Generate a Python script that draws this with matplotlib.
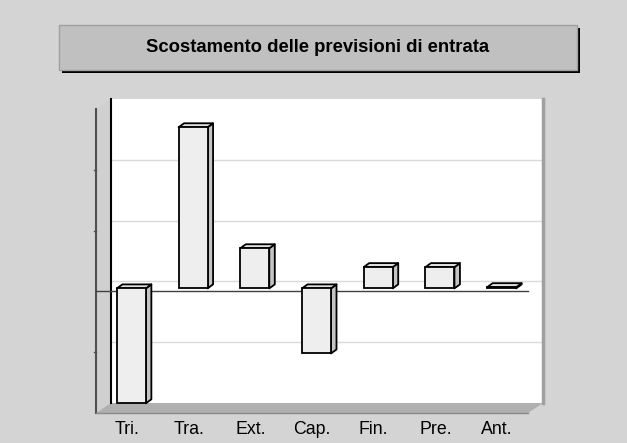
import matplotlib
matplotlib.use("Agg")
import matplotlib.pyplot as plt
from matplotlib.patches import Rectangle, Polygon

plt.rcParams['font.family'] = ['Liberation Sans', 'DejaVu Sans']

# data (values in grid units)
categories = ["Tri.", "Tra.", "Ext.", "Cap.", "Fin.", "Pre.", "Ant."]
values = [-1.89, 2.65, 0.66, -1.07, 0.35, 0.35, 0.02]
title = "Scostamento delle previsioni di entrata"

W, H = 627, 443
fig = plt.figure(figsize=(W / 100, H / 100), dpi=100, facecolor="#d4d4d4")

# title box with black shadow
fig.patches.append(Rectangle((62 / W, 1 - 73 / H), 518 / W, 45 / H, transform=fig.transFigure,
                             facecolor="black", edgecolor="none", zorder=0))
fig.patches.append(Rectangle((59 / W, 1 - 70 / H), 518 / W, 45 / H, transform=fig.transFigure,
                             facecolor="#c0c0c0", edgecolor="#a0a0a0", lw=1, zorder=1))
fig.text(318 / W, 1 - 48 / H, title, ha="center", va="center", fontsize=13.3,
         fontweight="bold", color="black", zorder=2)

# axes = plane of the bar fronts
ax = fig.add_axes([100.5 / W, (H - 410) / H, 432 / W, 304 / H])
ax.set_xlim(-0.5, 6.5)
ax.set_ylim(-2, 3)
ax.axis("off")
ax.patch.set_alpha(0)

sx = 7 / 432   # data units per pixel
sy = 5 / 304
bx, by = 10.5 * sx, 7 * sy    # back wall offset
fx, fy = -4.5 * sx, -3 * sy   # front plane offset
dx, dy = 5.5 * sx, 4 * sy     # bar depth
x0, x1, y0, y1 = -0.5, 6.5, -2, 3

# back wall
ax.add_patch(Rectangle((x0 + bx, y0 + by), x1 - x0, y1 - y0, facecolor="white",
                       edgecolor="none", zorder=0, clip_on=False))
for g in [-1, 0, 1, 2]:
    ax.plot([x0 + bx, x1 + bx], [g + by, g + by], color="#dadada", lw=1, zorder=1, clip_on=False)
ax.plot([x0 + bx, x0 + bx], [y0 + by, y1 + by], color="black", lw=1.5, zorder=2, clip_on=False)
ax.plot([x1 + bx, x1 + bx], [y0 + by, y1 + by], color="#a0a0a0", lw=2.5, zorder=2, clip_on=False)

# left wall
ax.add_patch(Polygon([(x0 + bx, y0 + by), (x0 + bx, y1 + by), (x0 + fx, y1 + fy), (x0 + fx, y0 + fy)],
                     closed=True, facecolor="#d0d0d0", edgecolor="none", zorder=0, clip_on=False))
ax.plot([x0 + fx, x0 + fx], [y0 + fy, y1 + fy], color="#505050", lw=1.5, zorder=2, clip_on=False)
for g in [-1, 1, 2]:
    ax.plot([x0 + fx - 2 * sx, x0 + fx], [g + fy, g + fy], color="#505050", lw=1, zorder=2, clip_on=False)

# floor
ax.add_patch(Polygon([(x0 + fx, y0 + fy), (x0 + bx, y0 + by), (x1 + bx, y0 + by), (x1 + fx, y0 + fy)],
                     closed=True, facecolor="#b0b0b0", edgecolor="none", zorder=1, clip_on=False))
ax.plot([x0 + fx, x1 + fx], [y0 + fy, y0 + fy], color="#8a8a8a", lw=1, zorder=2, clip_on=False)

# zero line (front plane)
ax.plot([x0 + fx, x1 + fx], [fy, fy], color="#404040", lw=1, zorder=3, clip_on=False)

# bars
bars = ax.bar(range(len(values)), values, width=0.47, color="#eeeeee",
              edgecolor="black", lw=1.3, zorder=5)
for b in bars:
    xl = b.get_x()
    xr = xl + b.get_width()
    lo = min(b.get_y(), b.get_y() + b.get_height())
    hi = max(b.get_y(), b.get_y() + b.get_height())
    ax.add_patch(Polygon([(xr, lo), (xr + dx, lo + dy), (xr + dx, hi + dy), (xr, hi)], closed=True,
                         facecolor="#c4c4c4", edgecolor="black", lw=1.3, zorder=4, joinstyle="round"))
    ax.add_patch(Polygon([(xl, hi), (xl + dx, hi + dy), (xr + dx, hi + dy), (xr, hi)], closed=True,
                         facecolor="#e2e2e2", edgecolor="black", lw=1.3, zorder=4, joinstyle="round"))

# category labels
for i, c in enumerate(categories):
    ax.text(i + fx, y0 + fy - 21 * sy, c, ha="center", va="baseline", fontsize=12.8, color="black")

fig.savefig("out.png", dpi=100, facecolor=fig.get_facecolor())
